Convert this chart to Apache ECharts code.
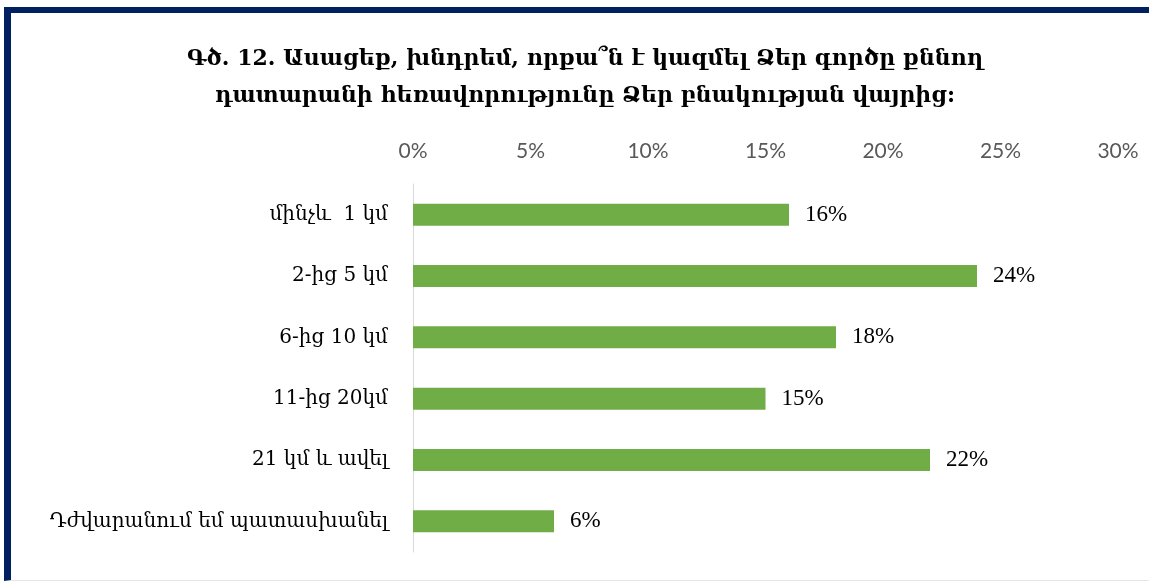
<!DOCTYPE html>
<html>
<head>
<meta charset="utf-8">
<script src="https://cdn.jsdelivr.net/npm/echarts@6/dist/echarts.min.js"></script>
<style>
  html, body { margin: 0; padding: 0; background: #fff; }
  #wrap { position: relative; width: 1149px; height: 583px; overflow: hidden; background: #fff; }
  #frame { position: absolute; left: 4px; top: 7px; width: 1200px; height: 574px;
           border-top: 6px solid #002060; border-left: 7px solid #002060;
           border-bottom: 1px solid #e6e6e6; box-sizing: border-box; }
  #chart { position: absolute; left: 0; top: 0; width: 1149px; height: 583px; }
</style>
</head>
<body>
<div id="wrap">
  <div id="frame"></div>
  <div id="chart"></div>
</div>
<script>
const titleLines = [
  "Գծ. 12. Ասացեք, խնդրեմ, որքա՞ն է կազմել Ձեր գործը քննող",
  "դատարանի հեռավորությունը Ձեր բնակության վայրից:"
];
const categories = [
  "մինչև  1 կմ",
  "2-ից 5 կմ",
  "6-ից 10 կմ",
  "11-ից 20կմ",
  "21 կմ և ավել",
  "Դժվարանում եմ պատասխանել"
];
const values = [16, 24, 18, 15, 22, 6];
const axisMin = 0, axisMax = 30, axisStep = 5;

const chart = echarts.init(document.getElementById('chart'), null, { renderer: 'canvas' });
chart.setOption({
  backgroundColor: 'transparent',
  animation: false,
  title: {
    text: titleLines.join('\n'),
    left: 580, top: 36, textAlign: 'center',
    textStyle: { fontFamily: 'DejaVu Serif', fontWeight: 'bold', fontSize: 22, lineHeight: 37, color: '#000' }
  },
  grid: { left: 413, right: 31, top: 184, bottom: 31, containLabel: false },
  xAxis: {
    type: 'value', position: 'top', min: axisMin, max: axisMax, interval: axisStep,
    axisLine: { show: false }, axisTick: { show: false }, splitLine: { show: false },
    axisLabel: { formatter: '{value}%', color: '#595959', fontFamily: 'Lato, Open Sans, sans-serif', fontSize: 21, margin: 22 }
  },
  yAxis: {
    type: 'category', data: categories, inverse: true,
    axisLine: { show: true, lineStyle: { color: '#d9d9d9', width: 1 } },
    axisTick: { show: false },
    axisLabel: { color: '#000', fontFamily: 'DejaVu Serif', fontSize: 20, margin: 25 }
  },
  series: [{
    type: 'bar', data: values, barWidth: '36%',
    itemStyle: { color: '#70ad47' },
    label: { show: true, position: 'right', distance: 16, formatter: '{c}%',
             color: '#000', fontFamily: 'Liberation Serif, serif', fontSize: 23 }
  }]
});
</script>
</body>
</html>
